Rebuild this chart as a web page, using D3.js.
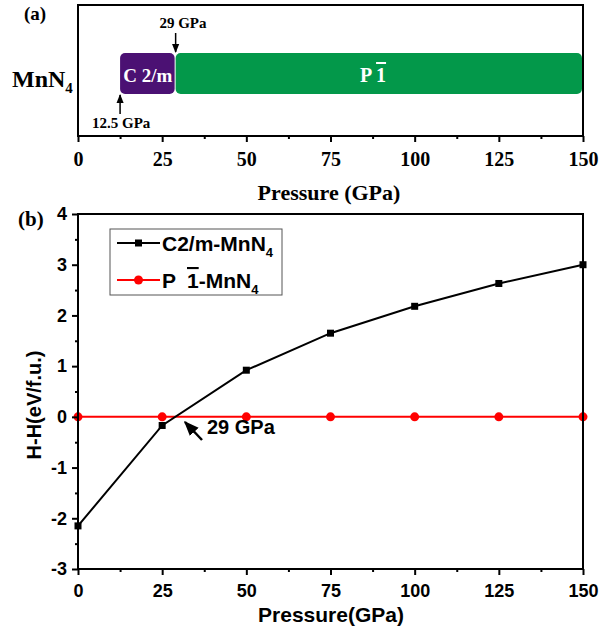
<!DOCTYPE html>
<html>
<head>
<meta charset="utf-8">
<script src="https://cdn.jsdelivr.net/npm/d3@7"></script>
<style>
  body { margin: 0; background: #fff; }
  svg text { fill: #000; }
</style>
</head>
<body>
<div id="chart"></div>
<script>
// phase ranges, panel (a)
var phases = [
    {name: "C 2/m", start: 12.5, end: 29, color: "#4b1173"},
    {name: "P 1", start: 29, end: 150, color: "#03984a"}
];
// enthalpy difference, panel (b)
var pressure = [0, 25, 50, 75, 100, 125, 150];
var c2m = [-2.15, -0.17, 0.92, 1.65, 2.18, 2.63, 3.0];
var p1 = [0, 0, 0, 0, 0, 0, 0];
var xTicks = [0, 25, 50, 75, 100, 125, 150];
var xMinor = [12.5, 37.5, 62.5, 87.5, 112.5, 137.5];
var yTicks = [-3, -2, -1, 0, 1, 2, 3, 4];
var yMinor = [-2.5, -1.5, -0.5, 0.5, 1.5, 2.5, 3.5];

var svg = d3.select("#chart").append("svg")
    .attr("width", 601)
    .attr("height", 635);

var serif = "'Liberation Serif', 'Times New Roman', serif";
var sans = "'Liberation Sans', Arial, sans-serif";

var defs = svg.append("defs");
defs.append("marker")
    .attr("id", "head").attr("viewBox", "0 0 10 10")
    .attr("refX", 9).attr("refY", 5)
    .attr("markerWidth", 6).attr("markerHeight", 6)
    .attr("orient", "auto-start-reverse")
    .append("path").attr("d", "M0,1 L10,5 L0,9 Z").style("fill", "#000");

function styleAxis(g) {
    g.select(".domain").remove();
    g.selectAll("line").style("stroke-width", 2);
}

// ---------- panel (a)
var x = d3.scaleLinear().domain([0, 150]).range([78, 583]);
var aTop = 5, aBottom = 136;

var gA = svg.append("g");

gA.selectAll("rect.phase")
    .data(phases)
    .enter().append("rect")
    .attr("class", "phase")
    .attr("x", function(d) { return x(d.start); })
    .attr("y", 53)
    .attr("width", function(d) { return x(d.end) - x(d.start) - 1; })
    .attr("height", 41)
    .attr("rx", 5)
    .style("fill", function(d) { return d.color; });

gA.append("text")
    .attr("x", (x(12.5) + x(29)) / 2).attr("y", 82)
    .attr("text-anchor", "middle")
    .style("font", "bold 19px " + serif)
    .style("fill", "#fff")
    .text("C 2/m");

var pLabel = gA.append("text")
    .attr("x", 373).attr("y", 82)
    .attr("text-anchor", "middle")
    .style("font", "bold 20px " + serif)
    .style("fill", "#fff");
pLabel.append("tspan").text("P ");
pLabel.append("tspan").style("text-decoration", "overline").text("1");

// frame
gA.append("rect")
    .attr("x", x(0)).attr("y", aTop)
    .attr("width", x(150) - x(0)).attr("height", aBottom - aTop)
    .style("fill", "none").style("stroke", "#000").style("stroke-width", 2);

gA.append("g")
    .attr("transform", "translate(0," + aBottom + ")")
    .call(d3.axisBottom(x).tickValues(xTicks).tickSize(6).tickPadding(10))
    .call(styleAxis)
    .selectAll("text").style("font", "bold 20px " + serif);
gA.append("g")
    .attr("transform", "translate(0," + aBottom + ")")
    .call(d3.axisBottom(x).tickValues(xMinor).tickSize(3).tickFormat(""))
    .call(styleAxis);

gA.append("text")
    .attr("x", 329).attr("y", 200)
    .attr("text-anchor", "middle")
    .style("font", "bold 22px " + serif)
    .text("Pressure (GPa)");

var mn = gA.append("text")
    .attr("x", 12).attr("y", 87)
    .style("font", "bold 24px " + serif);
mn.append("tspan").text("MnN");
mn.append("tspan").attr("dy", 6).style("font-size", "15px").text("4");

gA.append("text")
    .attr("x", 24).attr("y", 20)
    .style("font", "bold 19px " + serif)
    .text("(a)");

// arrows for transition pressures
gA.append("line")
    .attr("x1", x(29)).attr("x2", x(29)).attr("y1", 33).attr("y2", 52)
    .style("stroke", "#000").style("stroke-width", 1.5)
    .attr("marker-end", "url(#head)");
gA.append("text")
    .attr("x", 183).attr("y", 28)
    .attr("text-anchor", "middle")
    .style("font", "bold 15px " + serif)
    .text("29 GPa");

gA.append("line")
    .attr("x1", x(12.5)).attr("x2", x(12.5)).attr("y1", 114).attr("y2", 95)
    .style("stroke", "#000").style("stroke-width", 1.5)
    .attr("marker-end", "url(#head)");
gA.append("text")
    .attr("x", 92).attr("y", 128)
    .style("font", "bold 15px " + serif)
    .text("12.5 GPa");

// ---------- panel (b)
var y = d3.scaleLinear().domain([-3, 4]).range([569, 214]);
var gB = svg.append("g");

var line = d3.line()
    .x(function(d) { return x(d[0]); })
    .y(function(d) { return y(d[1]); });

var c2mData = pressure.map(function(p, i) { return [p, c2m[i]]; });
var p1Data = pressure.map(function(p, i) { return [p, p1[i]]; });

gB.append("path")
    .datum(p1Data)
    .attr("d", line)
    .style("fill", "none").style("stroke", "#f00").style("stroke-width", 2);
gB.selectAll("circle.p1")
    .data(p1Data)
    .enter().append("circle")
    .attr("class", "p1")
    .attr("cx", function(d) { return x(d[0]); })
    .attr("cy", function(d) { return y(d[1]); })
    .attr("r", 4.5)
    .style("fill", "#f00");

gB.append("path")
    .datum(c2mData)
    .attr("d", line)
    .style("fill", "none").style("stroke", "#000").style("stroke-width", 2);
gB.selectAll("rect.c2m")
    .data(c2mData)
    .enter().append("rect")
    .attr("class", "c2m")
    .attr("x", function(d) { return x(d[0]) - 3.5; })
    .attr("y", function(d) { return y(d[1]) - 3.5; })
    .attr("width", 7).attr("height", 7)
    .style("fill", "#000");

// frame
gB.append("rect")
    .attr("x", x(0)).attr("y", y(4))
    .attr("width", x(150) - x(0)).attr("height", y(-3) - y(4))
    .style("fill", "none").style("stroke", "#000").style("stroke-width", 2);

gB.append("g")
    .attr("transform", "translate(0," + y(-3) + ")")
    .call(d3.axisBottom(x).tickValues(xTicks).tickSize(6).tickPadding(9))
    .call(styleAxis)
    .selectAll("text").style("font", "bold 18px " + sans);
gB.append("g")
    .attr("transform", "translate(0," + y(-3) + ")")
    .call(d3.axisBottom(x).tickValues(xMinor).tickSize(3).tickFormat(""))
    .call(styleAxis);

gB.append("g")
    .attr("transform", "translate(" + x(0) + ",0)")
    .call(d3.axisLeft(y).tickValues(yTicks).tickSize(6).tickPadding(5)
        .tickFormat(function(d) { return String(d); }))
    .call(styleAxis)
    .selectAll("text").style("font", "bold 18px " + sans);
gB.append("g")
    .attr("transform", "translate(" + x(0) + ",0)")
    .call(d3.axisLeft(y).tickValues(yMinor).tickSize(3).tickFormat(""))
    .call(styleAxis);

gB.append("text")
    .attr("x", 331).attr("y", 622)
    .attr("text-anchor", "middle")
    .style("font", "bold 21px " + sans)
    .text("Pressure(GPa)");

gB.append("text")
    .attr("transform", "translate(41,405) rotate(-90)")
    .attr("text-anchor", "middle")
    .style("font", "bold 20px " + sans)
    .text("H-H(eV/f.u.)");

gB.append("text")
    .attr("x", 18).attr("y", 226)
    .style("font", "bold 21px " + serif)
    .text("(b)");

// annotation for crossing point
gB.append("line")
    .attr("x1", 202).attr("y1", 440).attr("x2", 185).attr("y2", 422)
    .style("stroke", "#000").style("stroke-width", 2.5)
    .attr("marker-end", "url(#head)");
gB.append("text")
    .attr("x", 207).attr("y", 434)
    .style("font", "bold 20px " + sans)
    .text("29 GPa");

// legend
var legend = gB.append("g").attr("transform", "translate(110,229)");
legend.append("rect")
    .attr("width", 172).attr("height", 66)
    .style("fill", "#fff").style("stroke", "#555").style("stroke-width", 1);

var items = [
    {label: "C2/m-MnN", color: "#000", shape: "square"},
    {label: "P 1-MnN", color: "#f00", shape: "circle"}
];
var it = legend.selectAll("g.item")
    .data(items)
    .enter().append("g")
    .attr("class", "item")
    .attr("transform", function(d, i) { return "translate(0," + (14 + i * 37) + ")"; });
it.append("line")
    .attr("x1", 7).attr("x2", 50)
    .style("stroke", function(d) { return d.color; }).style("stroke-width", 2);
it.each(function(d) {
    var g = d3.select(this);
    if (d.shape === "square") {
        g.append("rect").attr("x", 25).attr("y", -3.5).attr("width", 7).attr("height", 7).style("fill", d.color);
    } else {
        g.append("circle").attr("cx", 28.5).attr("cy", 0).attr("r", 4.5).style("fill", d.color);
    }
});
var lt = it.append("text")
    .attr("x", 52).attr("y", 8)
    .style("font", "bold 21px " + sans);
lt.each(function(d, i) {
    var t = d3.select(this);
    if (i === 0) {
        t.append("tspan").text("C2/m-MnN");
    } else {
        t.append("tspan").text("P");
        t.append("tspan").attr("x", 77).style("text-decoration", "overline").text("1");
        t.append("tspan").text("-MnN");
    }
    t.append("tspan").attr("dy", 6).style("font-size", "13px").text("4");
});
</script>
</body>
</html>
